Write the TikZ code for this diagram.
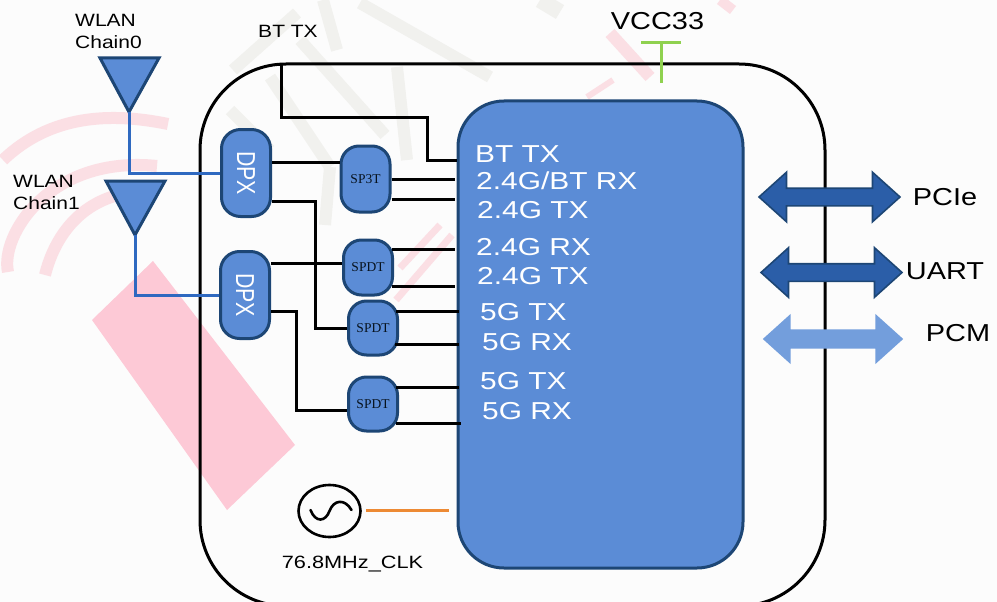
\documentclass[tikz,border=0pt]{standalone}
\usepackage{fontspec}
\setmainfont{Liberation Sans}
\newfontfamily\wide[FakeStretch=1.18]{Liberation Sans}
\newfontfamily\wider[FakeStretch=1.22]{Liberation Sans}
\newfontfamily\narrowf[FakeStretch=0.82]{Liberation Sans}
\newfontfamily\serifl{Liberation Serif}
\usetikzlibrary{shapes.geometric,shapes.arrows,calc}
\definecolor{chipfill}{HTML}{5B8CD6}
\definecolor{chipedge}{HTML}{1D4675}
\definecolor{bluewire}{HTML}{2F69C0}
\definecolor{arrowdark}{HTML}{2B5EA8}
\definecolor{arrowlight}{HTML}{739EDC}
\definecolor{wmpink}{HTML}{FDC9D6}
\definecolor{wmpale}{HTML}{FBDFE4}
\definecolor{wmgrey}{HTML}{F1F1EE}
\definecolor{vccgreen}{HTML}{8FD14F}
\definecolor{clkorange}{HTML}{ED8A34}
\tikzset{
 x=1pt,y=-1pt,
 chipbox/.style={draw=chipedge,line width=3pt,fill=chipfill,rounded corners=#1,inner sep=0pt},
 dpxbox/.style={chipbox=19pt,minimum width=49pt,minimum height=87pt,text=white,font=\narrowf\fontsize{26}{26}\selectfont},
 swbox/.style={chipbox=18pt,minimum width=49pt,text=black!75!chipedge,font=\serifl\fontsize{13.5}{14}\selectfont},
 wire/.style={line width=3pt,black},
 antwire/.style={line width=3pt,bluewire},
 pinlabel/.style={anchor=west,inner sep=0pt,text=white,font=\wider\fontsize{24.5}{25}\selectfont},
 smalllabel/.style={inner sep=0pt,text=black,font=\wide\fontsize{17.8}{22}\selectfont},
 biglabel/.style={inner sep=0pt,text=black,font=\wide\fontsize{24.5}{25}\selectfont},
 antenna/.style={draw=chipedge,line width=3pt,fill=chipfill,line join=miter},
 busarrow/.style={double arrow,minimum width=48pt,minimum height=141pt,inner xsep=0pt,inner ysep=8pt,double arrow head extend=16pt,double arrow tip angle=84,line width=1.6pt},
 wmark/.style={line cap=butt,line width=12pt},
}
\begin{document}
\begin{tikzpicture}
\useasboundingbox (0,0) rectangle (997,602);
\clip (0,0) rectangle (997,602);
\fill[white!99!black] (0,0) rectangle (997,602);
% watermark
\draw[wmark,wmgrey] (233,70) -- (297,13);
\draw[wmark,wmgrey] (270,77) -- (330,167);
\draw[wmark,wmgrey] (323,0) -- (337,50);
\draw[wmark,wmgrey] (360,3) -- (490,77);
\draw[wmark,wmgrey] (397,67) -- (407,160);
\draw[wmark,wmgrey] (300,40) -- (385,135);
\draw[wmark,wmgrey] (230,110) -- (270,150);
\draw[wmark,wmgrey] (330,167) -- (325,225);
\draw[wmark,wmgrey,line width=16pt] (540,0) -- (560,12);
\fill[wmpink] (153,261) -- (295,445) -- (227,510) -- (92,320) -- cycle;
\draw[wmark,wmpale] (3,160) .. controls (50,115) and (110,112) .. (168,124);
\draw[wmark,wmpale] (8,272) .. controls (0,235) and (50,155) .. (157,166);
\draw[wmark,wmpale] (45,275) .. controls (55,235) and (80,205) .. (118,195);
\draw[wmark,wmpale] (610,33) -- (650,77);
\draw[wmark,wmpale,line width=6pt] (613,80) -- (587,97);
\draw[wmark,wmpale,line width=10pt] (720,0) -- (733,10);
\draw[wmark,wmpale,line width=7pt] (396,300) -- (452,235);
\draw[wmark,wmpale,line width=7pt] (400,268) -- (440,225);
% frame
\draw[line width=3pt,black,rounded corners=86pt] (200,606) rectangle (825,64);
% chip
\node[chipbox=46pt,minimum width=285pt,minimum height=467pt] (chip) at (600.5,334.5) {};
% switches and diplexers
\node[dpxbox] (dpx1) at (246,173) {\rotatebox{-90}{DPX}};
\node[dpxbox] (dpx2) at (245,295) {\rotatebox{-90}{DPX}};
\node[swbox,minimum height=66pt] (sp3t) at (365.5,179) {SP3T};
\node[swbox,minimum height=55pt] (spdta) at (368,267.5) {SPDT};
\node[swbox,minimum height=54pt] (spdtb) at (373,328) {SPDT};
\node[swbox,minimum height=54pt] (spdtc) at (373,404) {SPDT};
% antennas
\coordinate (ant0) at (129,112);
\coordinate (ant1) at (135,235);
\draw[antenna] (100,58) -- (159,58) -- (ant0) -- cycle;
\draw[antenna] (106,181) -- (165,181) -- (ant1) -- cycle;
\draw[antwire] (ant0) |- (dpx1.west);
\draw[antwire] (ant1) |- (dpx2.west);
% wires
\coordinate (bt) at (281,64);
\draw[wire] (bt) -- (281,118) -- (427,118) -- (427,160) -- (chip.west |- 0,160);
\draw[wire] (dpx1.east |- 0,162) -- (sp3t.west |- 0,162);
\draw[wire] (dpx1.east |- 0,201) -- (315,201) -- (315,328) -- (spdtb.west);
\draw[wire] (dpx2.east |- 0,263) -- (spdta.west |- 0,263);
\draw[wire] (dpx2.east |- 0,311) -- (296,311) -- (296,410) -- (spdtc.west |- 0,410);
\draw[wire] (sp3t.east |- 0,179) -- ([xshift=-2pt]chip.west |- 0,179);
\draw[wire] (sp3t.east |- 0,199) -- ([xshift=-2pt]chip.west |- 0,199);
\draw[wire] ([xshift=-2pt]spdta.east |- 0,249) -- ([xshift=-2pt]chip.west |- 0,249);
\draw[wire] ([xshift=-2pt]spdta.east |- 0,286) -- ([xshift=-2pt]chip.west |- 0,286);
\draw[wire] ([xshift=-3pt]spdtb.east |- 0,311) -- ([xshift=2pt]chip.west |- 0,311);
\draw[wire] ([xshift=-4pt]spdtb.east |- 0,344) -- ([xshift=2pt]chip.west |- 0,344);
\draw[wire] ([xshift=-3pt]spdtc.east |- 0,387) -- ([xshift=2pt]chip.west |- 0,387);
\draw[wire] ([xshift=-3pt]spdtc.east |- 0,423) -- ([xshift=4pt]chip.west |- 0,423);
% chip labels
\node[pinlabel] (l1) at (475,153.7) {BT TX};
\node[pinlabel] (l2) at (476,180.7) {2.4G/BT RX};
\node[pinlabel] (l3) at (477,209.7) {2.4G TX};
\node[pinlabel] (l4) at (476,246.7) {2.4G RX};
\node[pinlabel] (l5) at (477,275.7) {2.4G TX};
\node[pinlabel] (l6) at (480,311.7) {5G TX};
\node[pinlabel] (l7) at (482,341.7) {5G RX};
\node[pinlabel] (l8) at (480,380.7) {5G TX};
\node[pinlabel] (l9) at (482,410.7) {5G RX};
% outer labels
\node[smalllabel,align=left,anchor=north west] (wlan0) at (75,14) {WLAN\\Chain0};
\node[smalllabel,align=left,anchor=north west] (wlan1) at (13,175) {WLAN\\Chain1};
\node[smalllabel] (bttx) at (288,31) {BT TX};
\node[biglabel] (vcc) at (657.5,21) {VCC33};
\node[smalllabel,font=\wider\fontsize{17.8}{22}\selectfont] (clklabel) at (352.5,564) {76.8MHz\_CLK};
% VCC tee
\coordinate (vcctop) at (661,43);
\coordinate (vccend) at (661,83);
\draw[vccgreen,line width=3pt] (641,43) -- (681,43);
\draw[vccgreen,line width=3pt] (vcctop) -- (vccend);
% buses
\node[busarrow,draw=chipedge,fill=arrowdark] (pcie) at (829.5,197) {};
\node[busarrow,draw=chipedge,fill=arrowdark] (uart) at (831.5,272.5) {};
\node[busarrow,draw=arrowlight,fill=arrowlight,minimum height=138pt,minimum width=45pt,double arrow head extend=14.5pt] (pcm) at (833,339) {};
\node[biglabel] (pcielabel) at (945,197.5) {PCIe};
\node[biglabel] (uartlabel) at (945,271.5) {UART};
\node[biglabel] (pcmlabel) at (958,333.5) {PCM};
% oscillator
\node[ellipse,draw=black,line width=2.6pt,minimum width=62pt,minimum height=52pt,inner sep=0pt] (osc) at (329.5,511) {};
\draw[line width=2.6pt,line cap=round] ($(osc)+(-19,-1)$) .. controls ($(osc)+(-14,12)$) and ($(osc)+(-4,11)$) .. (osc.center) .. controls ($(osc)+(4,-11)$) and ($(osc)+(15,-13)$) .. ($(osc)+(22,-1)$);
\coordinate (clkend) at (449,510);
\draw[clkorange,line width=3pt] (366,510) -- (clkend);
\end{tikzpicture}
\end{document}
